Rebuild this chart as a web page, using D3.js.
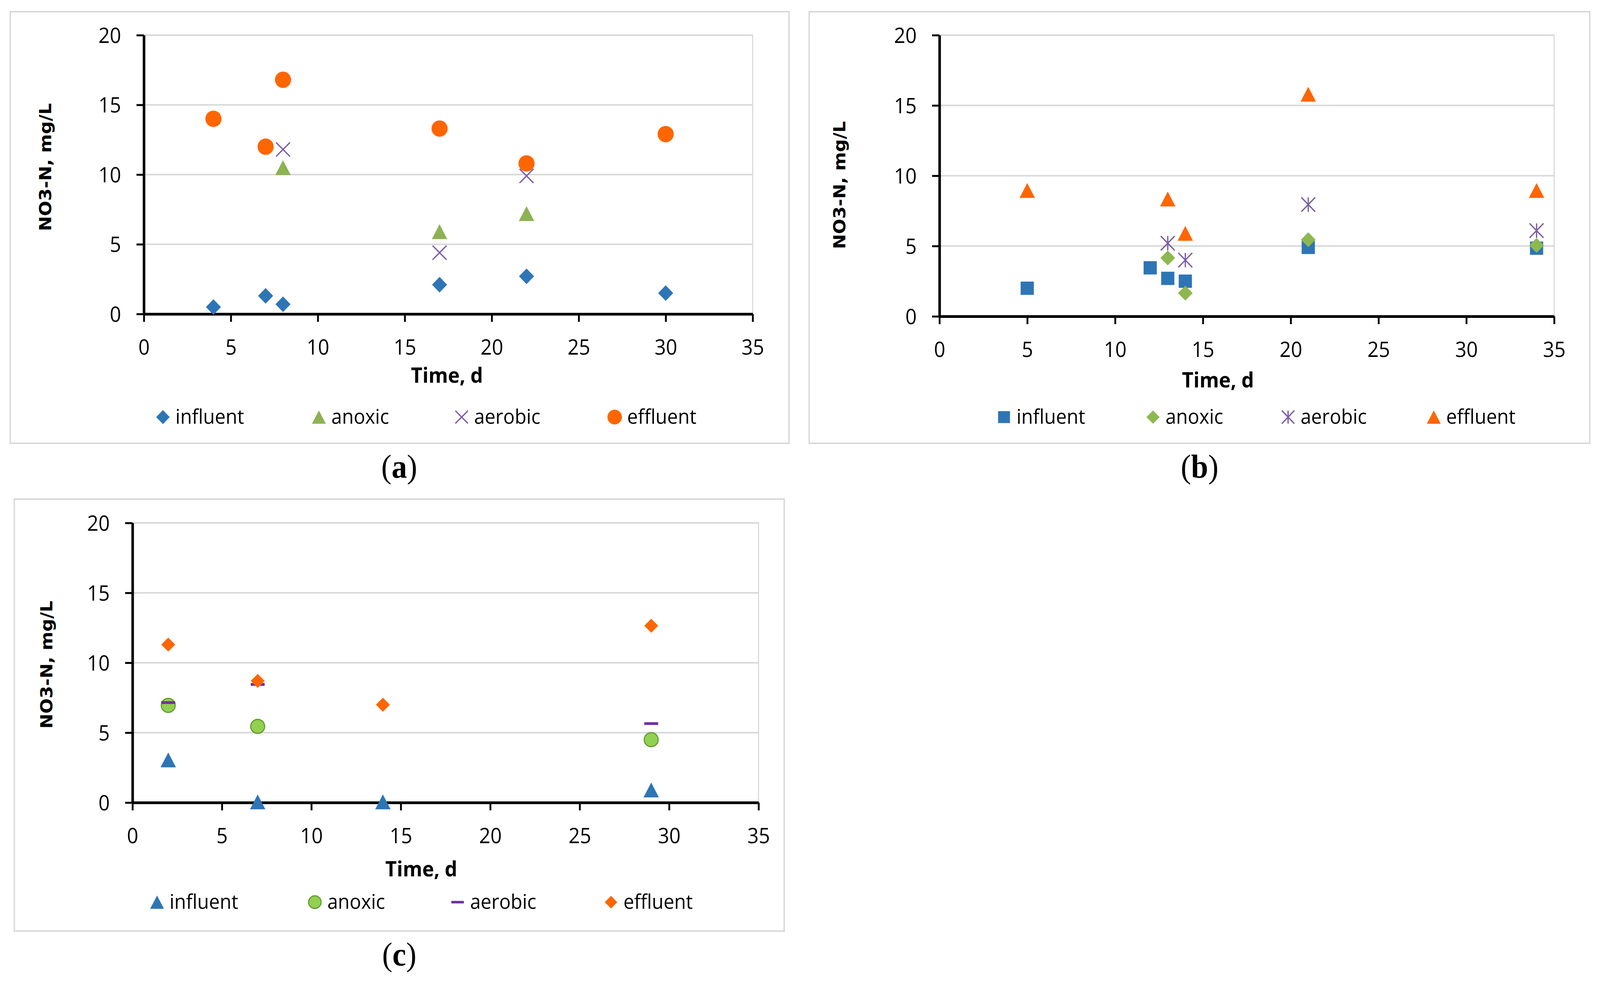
<!DOCTYPE html>
<html>
<head>
<meta charset="utf-8">
<script src="https://cdn.jsdelivr.net/npm/d3@7"></script>
<style>
  html, body { margin: 0; padding: 0; background: #fff; overflow: hidden; }
  svg { display: block; width: 100vw; height: 100vh; }
  .tick text { font-family: "Open Sans", sans-serif; font-size: 54px; fill: #000; }
</style>
</head>
<body>
<script>
// axis ticks shared by all three panels
var xTicks = [0, 5, 10, 15, 20, 25, 30, 35];
var yTicks = [0, 5, 10, 15, 20];
var seriesNames = ["influent", "anoxic", "aerobic", "effluent"];

// panel (a)
var aInfluentX = [4, 7, 8, 17, 22, 30],  aInfluentY = [0.5, 1.3, 0.7, 2.1, 2.7, 1.5];
var aAnoxicX   = [8, 17, 22],            aAnoxicY   = [10.5, 5.9, 7.2];
var aAerobicX  = [8, 17, 22],            aAerobicY  = [11.8, 4.4, 9.9];
var aEffluentX = [4, 7, 8, 17, 22, 30],  aEffluentY = [14.0, 12.0, 16.8, 13.3, 10.8, 12.9];

// panel (b)
var bInfluentX = [5, 12, 13, 14, 21, 34], bInfluentY = [2.0, 3.45, 2.7, 2.5, 4.9, 4.85];
var bAnoxicX   = [13, 14, 21, 34],        bAnoxicY   = [4.15, 1.65, 5.45, 5.05];
var bAerobicX  = [13, 14, 21, 34],        bAerobicY  = [5.2, 4.0, 7.95, 6.1];
var bEffluentX = [5, 13, 14, 21, 34],     bEffluentY = [8.95, 8.35, 5.9, 15.8, 8.95];

// panel (c)
var cInfluentX = [2, 7, 14, 29],  cInfluentY = [3.05, 0.05, 0.05, 0.9];
var cAnoxicX   = [2, 7, 29],      cAnoxicY   = [6.95, 5.45, 4.5];
var cAerobicX  = [2, 7, 29],      cAerobicY  = [7.15, 8.45, 5.65];
var cEffluentX = [2, 7, 14, 29],  cEffluentY = [11.3, 8.7, 7.0, 12.65];

var width = 4360, height = 2517;

// drawn in reference pixels, scaled to whatever the viewport is
var svg = d3.select("body").append("svg")
  .attr("viewBox", "0 0 " + width + " " + height)
  .attr("preserveAspectRatio", "none");

svg.append("rect").attr("width", width).attr("height", height).attr("fill", "#fff");

// marker outlines, centred on 0,0
function shape(type, w, h) {
  var hw = w / 2, hh = h / 2;
  switch (type) {
    case "diamond":  return "M0," + (-hh) + "L" + hw + ",0L0," + hh + "L" + (-hw) + ",0Z";
    case "triangle": return "M0," + (-hh) + "L" + hw + "," + hh + "L" + (-hw) + "," + hh + "Z";
    case "square":   return "M" + (-hw) + "," + (-hh) + "h" + w + "v" + h + "h" + (-w) + "Z";
    case "dash":     return "M" + (-hw) + "," + (-hh) + "h" + w + "v" + h + "h" + (-w) + "Z";
    case "circle":   return "M" + (-hw) + ",0A" + hw + "," + hh + " 0 1,0 " + hw + ",0A" + hw + "," + hh + " 0 1,0 " + (-hw) + ",0Z";
    case "cross":    return "M" + (-hw) + "," + (-hh) + "L" + hw + "," + hh + "M" + hw + "," + (-hh) + "L" + (-hw) + "," + hh;
    case "star":     return "M" + (-hw) + "," + (-hh) + "L" + hw + "," + hh + "M" + hw + "," + (-hh) + "L" + (-hw) + "," + hh + "M0," + (-hh) + "L0," + hh;
  }
}

function styleMarker(sel, st) {
  var lineOnly = (st.type === "cross" || st.type === "star");
  sel.attr("fill", lineOnly ? "none" : st.color)
    .attr("stroke", lineOnly ? st.color : (st.stroke || "none"))
    .attr("stroke-width", lineOnly ? 3.5 : (st.stroke ? 3 : 0));
}

function drawPanel(p) {
  var g = svg.append("g");

  // outer frame
  g.append("rect")
    .attr("x", p.box[0]).attr("y", p.box[1])
    .attr("width", p.box[2] - p.box[0]).attr("height", p.box[3] - p.box[1])
    .attr("fill", "none").attr("stroke", "#d9d9d9").attr("stroke-width", 4);

  var x = d3.scaleLinear().domain([0, 35]).range([p.left, p.right]);
  var y = d3.scaleLinear().domain([0, 20]).range([p.bottom, p.top]);

  // plot area border + gridlines
  g.append("rect")
    .attr("x", p.left).attr("y", p.top)
    .attr("width", p.right - p.left).attr("height", p.bottom - p.top)
    .attr("fill", "none").attr("stroke", "#d9d9d9").attr("stroke-width", 3);

  g.selectAll(".grid")
    .data(yTicks.slice(1))
    .enter().append("line")
    .attr("class", "grid")
    .attr("x1", p.left).attr("x2", p.right)
    .attr("y1", function (d) { return y(d); })
    .attr("y2", function (d) { return y(d); })
    .attr("stroke", "#d9d9d9").attr("stroke-width", 4);

  // axes
  var xAxis = g.append("g")
    .attr("transform", "translate(0," + p.bottom + ")")
    .call(d3.axisBottom(x).tickValues(xTicks).tickSize(20).tickSizeOuter(0));
  xAxis.selectAll(".tick text").attr("y", 104).attr("dy", 0);

  var yAxis = g.append("g")
    .attr("transform", "translate(" + p.left + ",0)")
    .call(d3.axisLeft(y).tickValues(yTicks).tickSize(20).tickSizeOuter(0));
  yAxis.selectAll(".tick text").attr("x", -62).attr("dy", "0.36em");

  [xAxis, yAxis].forEach(function (a) {
    a.select(".domain").attr("stroke", "#000").attr("stroke-width", 7);
    a.selectAll(".tick line").attr("stroke", "#000").attr("stroke-width", 5);
  });

  // axis titles
  g.append("text")
    .attr("x", p.xTitle[0]).attr("y", p.xTitle[1])
    .attr("text-anchor", "middle")
    .style("font-family", "'Open Sans', sans-serif")
    .style("font-weight", "bold").style("font-size", "54px")
    .text("Time, d");

  g.append("text")
    .attr("transform", "translate(" + p.yTitle[0] + "," + p.yTitle[1] + ") rotate(-90)")
    .attr("text-anchor", "middle")
    .style("font-family", "'DejaVu Sans', sans-serif")
    .style("font-weight", "bold").style("font-size", "46px")
    .text("NO3-N, mg/L");

  // points, series drawn in legend order
  p.series.forEach(function (s) {
    var pts = s.xs.map(function (d, i) { return [d, s.ys[i]]; });
    g.selectAll(null)
      .data(pts)
      .enter().append("path")
      .attr("transform", function (d) { return "translate(" + x(d[0]) + "," + y(d[1]) + ")"; })
      .attr("d", shape(s.type, s.w, s.h))
      .call(styleMarker, s);
  });

  // legend
  var leg = g.selectAll(".leg")
    .data(p.series)
    .enter().append("g")
    .attr("class", "leg")
    .attr("transform", function (d, i) { return "translate(" + p.legendX[i] + "," + p.legendY + ")"; });
  leg.append("path")
    .attr("d", function (d) { return shape(d.type, d.w * 0.9, d.h * 0.9); })
    .each(function (d) { d3.select(this).call(styleMarker, d); });
  leg.append("text")
    .attr("x", 34).attr("y", 17)
    .style("font-family", "'Open Sans', sans-serif")
    .style("font-size", "52px")
    .text(function (d) { return d.name; });

  // caption
  var cap = g.append("text")
    .attr("x", p.caption[0]).attr("y", p.caption[1])
    .attr("text-anchor", "middle")
    .style("font-family", "'Liberation Serif', serif")
    .style("font-size", "84px");
  cap.append("tspan").text("(");
  cap.append("tspan").style("font-weight", "bold").text(p.label);
  cap.append("tspan").text(")");
}

var blue = "#2e75b6", orange = "#ff6600", purple = "#7b5ea8";

drawPanel({
  label: "a",
  box: [28, 30, 2150, 1135],
  left: 392, right: 2051, top: 90, bottom: 804,
  xTitle: [1218, 980], yTitle: [139, 428],
  legendX: [444, 869, 1258, 1675], legendY: 1068,
  caption: [1088, 1223],
  series: [
    { name: seriesNames[0], xs: aInfluentX, ys: aInfluentY, type: "diamond",  w: 41, h: 40, color: blue },
    { name: seriesNames[1], xs: aAnoxicX,   ys: aAnoxicY,   type: "triangle", w: 42, h: 38, color: "#8db253" },
    { name: seriesNames[2], xs: aAerobicX,  ys: aAerobicY,  type: "cross",    w: 38, h: 36, color: purple },
    { name: seriesNames[3], xs: aEffluentX, ys: aEffluentY, type: "circle",   w: 44, h: 42, color: orange }
  ]
});

drawPanel({
  label: "b",
  box: [2205, 30, 4332, 1135],
  left: 2560, right: 4235, top: 90, bottom: 810,
  xTitle: [3319, 992], yTitle: [2304, 474],
  legendX: [2736, 3142, 3510, 3907], legendY: 1068,
  caption: [3269, 1223],
  series: [
    { name: seriesNames[0], xs: bInfluentX, ys: bInfluentY, type: "square",   w: 36, h: 34, color: blue },
    { name: seriesNames[1], xs: bAnoxicX,   ys: bAnoxicY,   type: "diamond",  w: 40, h: 38, color: "#8db84f" },
    { name: seriesNames[2], xs: bAerobicX,  ys: bAerobicY,  type: "star",     w: 38, h: 37, color: purple },
    { name: seriesNames[3], xs: bEffluentX, ys: bEffluentY, type: "triangle", w: 42, h: 38, color: orange }
  ]
});

drawPanel({
  label: "c",
  box: [39, 1278, 2137, 2384],
  left: 361, right: 2067, top: 1339, bottom: 2055,
  xTitle: [1148, 2244], yTitle: [143, 1702],
  legendX: [428, 858, 1247, 1665], legendY: 2310,
  caption: [1088, 2472],
  series: [
    { name: seriesNames[0], xs: cInfluentX, ys: cInfluentY, type: "triangle", w: 42, h: 38, color: blue },
    { name: seriesNames[1], xs: cAnoxicX,   ys: cAnoxicY,   type: "circle",   w: 38, h: 36, color: "#92d050", stroke: "#5f9b30" },
    { name: seriesNames[2], xs: cAerobicX,  ys: cAerobicY,  type: "dash",     w: 38, h: 7,  color: "#7030a0" },
    { name: seriesNames[3], xs: cEffluentX, ys: cEffluentY, type: "diamond",  w: 38, h: 36, color: orange }
  ]
});
</script>
</body>
</html>
